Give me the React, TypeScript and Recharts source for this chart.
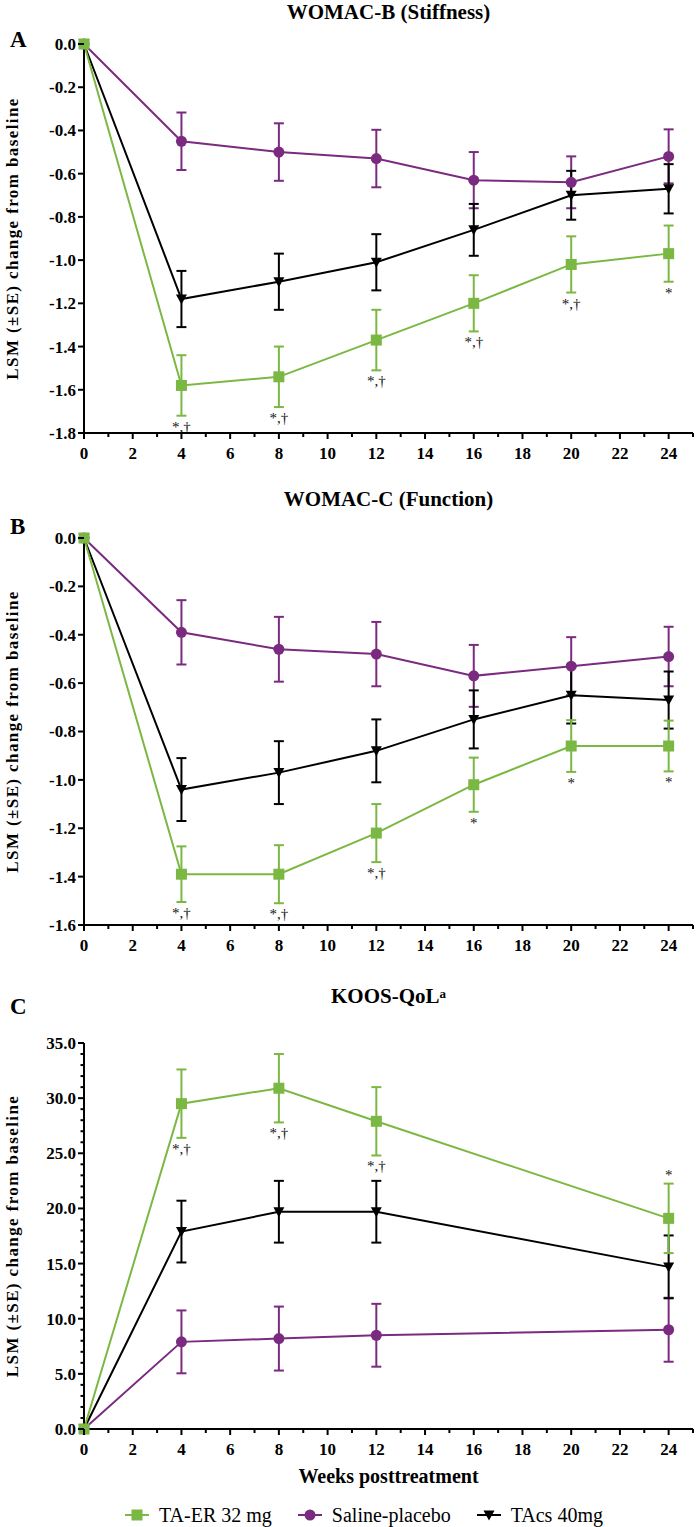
import React from "react";
import { ComposedChart, Line, XAxis, YAxis, ErrorBar, Scatter, Legend } from "recharts";

const GREEN = "#7bb843";
const PURPLE = "#7a2a7f";
const BLACK = "#000000";
const FONT = "'Liberation Serif', 'Times New Roman', Times, serif";

// weeks after treatment
const weeksAB = [0, 4, 8, 12, 16, 20, 24];
const weeksC = [0, 4, 8, 12, 24];
const xTicks = [0, 1, 2, 3, 4, 5, 6, 7, 8, 9, 10, 11, 12, 13, 14, 15, 16, 17, 18, 19, 20, 21, 22, 23, 24, 25];

// A: WOMAC-B (Stiffness)
const stiffTaEr = [0, -1.58, -1.54, -1.37, -1.2, -1.02, -0.97];
const stiffTaErSe = [0, 0.14, 0.14, 0.14, 0.13, 0.13, 0.13];
const stiffPlacebo = [0, -0.45, -0.5, -0.53, -0.63, -0.64, -0.52];
const stiffPlaceboSe = [0, 0.133, 0.133, 0.133, 0.13, 0.12, 0.125];
const stiffTacs = [0, -1.18, -1.1, -1.01, -0.86, -0.7, -0.67];
const stiffTacsSe = [0, 0.13, 0.13, 0.13, 0.12, 0.113, 0.114];
const stiffNotes = ["", "*,†", "*,†", "*,†", "*,†", "*,†", "*"];
const stiffTicks = [0, -0.2, -0.4, -0.6, -0.8, -1.0, -1.2, -1.4, -1.6, -1.8];

// B: WOMAC-C (Function)
const funcTaEr = [0, -1.39, -1.39, -1.22, -1.02, -0.86, -0.86];
const funcTaErSe = [0, 0.115, 0.12, 0.12, 0.112, 0.107, 0.105];
const funcPlacebo = [0, -0.39, -0.46, -0.48, -0.57, -0.53, -0.49];
const funcPlaceboSe = [0, 0.133, 0.134, 0.133, 0.128, 0.12, 0.123];
const funcTacs = [0, -1.04, -0.97, -0.88, -0.75, -0.65, -0.67];
const funcTacsSe = [0, 0.13, 0.13, 0.13, 0.12, 0.117, 0.118];
const funcNotes = ["", "*,†", "*,†", "*,†", "*", "*", "*"];
const funcTicks = [0, -0.2, -0.4, -0.6, -0.8, -1.0, -1.2, -1.4, -1.6];

// C: KOOS-QoL
const qolTaEr = [0, 29.5, 30.9, 27.9, 19.1];
const qolTaErSe = [0, 3.1, 3.1, 3.1, 3.15];
const qolPlacebo = [0, 7.9, 8.2, 8.5, 9.0];
const qolPlaceboSe = [0, 2.85, 2.9, 2.85, 2.9];
const qolTacs = [0, 17.9, 19.7, 19.7, 14.7];
const qolTacsSe = [0, 2.8, 2.8, 2.8, 2.85];
const qolNotes = ["", "*,†", "*,†", "*,†", "*"];
const qolNoteAbove = [false, false, false, false, true];
const qolTicks = Array.from({ length: 36 }, (_, i) => i);

const legendItems = [
  { label: "TA-ER 32 mg", color: GREEN, shape: "square" },
  { label: "Saline-placebo", color: PURPLE, shape: "circle" },
  { label: "TAcs 40mg", color: BLACK, shape: "triangle" },
];

function buildRows(weeks: number[], taEr: number[], taErSe: number[], placebo: number[], placeboSe: number[], tacs: number[], tacsSe: number[]) {
  return weeks.map((week, i) => ({
    week,
    taEr: taEr[i],
    taErSe: taErSe[i] || undefined,
    placebo: placebo[i],
    placeboSe: placeboSe[i] || undefined,
    tacs: tacs[i],
    tacsSe: tacsSe[i] || undefined,
  }));
}

function buildNotes(weeks: number[], taEr: number[], taErSe: number[], notes: string[], above?: boolean[]) {
  return weeks
    .map((week, i) => {
      const up = above ? above[i] : false;
      return { week, pos: up ? taEr[i] + taErSe[i] : taEr[i] - taErSe[i], text: notes[i], above: up };
    })
    .filter((d) => d.text);
}

function Marker({ shape, cx, cy, color }: { shape: string; cx: number; cy: number; color: string }) {
  if (shape === "square") return <rect x={cx - 5.5} y={cy - 5.5} width={11} height={11} fill={color} />;
  if (shape === "circle") return <circle cx={cx} cy={cy} r={5.5} fill={color} />;
  return <polygon points={`${cx - 5.5},${cy - 4.5} ${cx + 5.5},${cy - 4.5} ${cx},${cy + 5.5}`} fill={color} />;
}

const dotFor = (shape: string, color: string) => (p: any) =>
  p.cx == null || p.cy == null ? <g key={p.key ?? p.index} /> : <g key={p.key ?? p.index}><Marker shape={shape} cx={p.cx} cy={p.cy} color={color} /></g>;

const XTick = (props: any) => {
  const { x, y, payload } = props;
  const major = payload.value % 2 === 0 && payload.value <= 24;
  return (
    <g>
      <line x1={x} x2={x} y1={y} y2={y + (major ? 6 : 4)} stroke="#000" strokeWidth={2} />
      {major && (
        <text x={x} y={y + 26} textAnchor="middle" fontSize={17} fontWeight="bold" fontFamily={FONT} fill="#000">
          {payload.value}
        </text>
      )}
    </g>
  );
};

const makeYTick = (step: number) => (props: any) => {
  const { x, y, payload } = props;
  const major = Math.abs(payload.value / step - Math.round(payload.value / step)) < 1e-6;
  return (
    <g>
      <line x1={x - (major ? 6 : 3.5)} x2={x} y1={y} y2={y} stroke="#000" strokeWidth={2} />
      {major && (
        <text x={x - 8} y={y} dy="0.35em" textAnchor="end" fontSize={17} fontWeight="bold" fontFamily={FONT} fill="#000">
          {Number(payload.value).toFixed(1)}
        </text>
      )}
    </g>
  );
};

const YLabel = (props: any) => {
  const vb = props.viewBox || {};
  const cx = 12;
  const cy = vb.y + vb.height / 2;
  return (
    <text
      x={cx}
      y={cy}
      transform={`rotate(-90, ${cx}, ${cy})`}
      textAnchor="middle"
      dominantBaseline="central"
      fontSize={17}
      fontWeight="bold"
      letterSpacing={1.4}
      fontFamily={FONT}
      fill="#000"
    >
      LSM (±SE) change from baseline
    </text>
  );
};

const XLabel = (props: any) => {
  const vb = props.viewBox || {};
  return (
    <text x={vb.x + vb.width / 2} y={vb.y + 54} textAnchor="middle" fontSize={20} fontWeight="bold" fontFamily={FONT} fill="#000">
      Weeks posttreatment
    </text>
  );
};

const NoteShape = (props: any) => {
  const { cx, cy, payload } = props;
  if (cx == null || cy == null) return <g />;
  return (
    <g opacity={0.99}>
      <text
        x={cx}
        y={payload.above ? cy - 4 : cy + 16}
        textAnchor="middle"
        fontSize={15}
        fontFamily={FONT}
        fill="#111"
        style={{ fill: "#111" }}
      >
        {payload.text}
      </text>
    </g>
  );
};

const LegendContent = () => (
  <div style={{ display: "flex", alignItems: "center", fontFamily: FONT, fontSize: 20, color: "#000", height: 30, whiteSpace: "nowrap" }}>
    {legendItems.map((it) => (
      <div key={it.label} style={{ display: "flex", alignItems: "center", marginRight: 26 }}>
        <svg width={24} height={14}>
          <line x1={0} x2={24} y1={7} y2={7} stroke={it.color} strokeWidth={2} />
          <Marker shape={it.shape} cx={12} cy={7} color={it.color} />
        </svg>
        <span style={{ marginLeft: 10 }}>{it.label}</span>
      </div>
    ))}
  </div>
);

const axisLine = { stroke: "#000", strokeWidth: 2 };

function Panel(props: {
  top: number;
  height: number;
  marginTop: number;
  xAxisHeight: number;
  rows: any[];
  notes: any[];
  domain: [number, number];
  yTicks: number[];
  yStep: number;
  last?: boolean;
}) {
  const { top, height, marginTop, xAxisHeight, rows, notes, domain, yTicks, yStep, last } = props;
  return (
    <div style={{ position: "absolute", left: 0, top }}>
      <ComposedChart width={696} height={height} data={rows} margin={{ top: marginTop, right: 3, bottom: 0, left: 0 }}>
        <XAxis
          dataKey="week"
          type="number"
          domain={[0, 25]}
          ticks={xTicks}
          interval={0}
          height={xAxisHeight}
          tickSize={0}
          tickMargin={0}
          axisLine={axisLine}
          tickLine={false}
          tick={<XTick />}
          label={last ? (p: any) => <XLabel {...p} /> : undefined}
        />
        <YAxis
          type="number"
          domain={domain}
          ticks={yTicks}
          interval={0}
          width={84}
          tickSize={0}
          tickMargin={0}
          axisLine={axisLine}
          tickLine={false}
          tick={makeYTick(yStep)}
          label={(p: any) => <YLabel {...p} />}
        />
        <Line dataKey="placebo" stroke={PURPLE} strokeWidth={2} dot={dotFor("circle", PURPLE)} activeDot={false} isAnimationActive={false}>
          <ErrorBar dataKey="placeboSe" direction="y" width={5} stroke={PURPLE} strokeWidth={2} isAnimationActive={false} />
        </Line>
        <Line dataKey="tacs" stroke={BLACK} strokeWidth={2} dot={dotFor("triangle", BLACK)} activeDot={false} isAnimationActive={false}>
          <ErrorBar dataKey="tacsSe" direction="y" width={5} stroke={BLACK} strokeWidth={2} isAnimationActive={false} />
        </Line>
        <Line dataKey="taEr" stroke={GREEN} strokeWidth={2} dot={dotFor("square", GREEN)} activeDot={false} isAnimationActive={false}>
          <ErrorBar dataKey="taErSe" direction="y" width={5} stroke={GREEN} strokeWidth={2} isAnimationActive={false} />
        </Line>
        <Scatter data={notes} dataKey="pos" fill="#000" shape={<NoteShape />} isAnimationActive={false} />
        {last && (
          <Legend
            layout="horizontal"
            verticalAlign="middle"
            align="center"
            content={<LegendContent />}
            wrapperStyle={{ left: 125, top: height - 27, width: 560, height: 30 }}
          />
        )}
      </ComposedChart>
    </div>
  );
}

const titleStyle: React.CSSProperties = {
  position: "absolute",
  left: 84,
  width: 609,
  textAlign: "center",
  fontFamily: FONT,
  fontWeight: "bold",
  fontSize: 21,
  lineHeight: "25px",
  color: "#000",
};

const letterStyle: React.CSSProperties = {
  position: "absolute",
  left: 10,
  fontFamily: FONT,
  fontWeight: "bold",
  fontSize: 23,
  lineHeight: "26px",
  color: "#000",
};

export default function App() {
  const rowsA = buildRows(weeksAB, stiffTaEr, stiffTaErSe, stiffPlacebo, stiffPlaceboSe, stiffTacs, stiffTacsSe);
  const rowsB = buildRows(weeksAB, funcTaEr, funcTaErSe, funcPlacebo, funcPlaceboSe, funcTacs, funcTacsSe);
  const rowsC = buildRows(weeksC, qolTaEr, qolTaErSe, qolPlacebo, qolPlaceboSe, qolTacs, qolTacsSe);
  const notesA = buildNotes(weeksAB, stiffTaEr, stiffTaErSe, stiffNotes);
  const notesB = buildNotes(weeksAB, funcTaEr, funcTaErSe, funcNotes);
  const notesC = buildNotes(weeksC, qolTaEr, qolTaErSe, qolNotes, qolNoteAbove);

  return (
    <div style={{ position: "absolute", left: 0, top: 0, width: 696, height: 1527, background: "#fff", overflow: "hidden", fontFamily: FONT }}>
      <Panel top={0} height={470} marginTop={44} xAxisHeight={37} rows={rowsA} notes={notesA} domain={[-1.8, 0]} yTicks={stiffTicks} yStep={0.2} />
      <Panel top={480} height={480} marginTop={58} xAxisHeight={35} rows={rowsB} notes={notesB} domain={[-1.6, 0]} yTicks={funcTicks} yStep={0.2} />
      <Panel top={960} height={567} marginTop={83} xAxisHeight={98} rows={rowsC} notes={notesC} domain={[0, 35]} yTicks={qolTicks} yStep={5} last />

      <div style={{ ...titleStyle, top: 0 }}>WOMAC-B (Stiffness)</div>
      <div style={{ ...titleStyle, top: 487 }}>WOMAC-C (Function)</div>
      <div style={{ ...titleStyle, top: 984 }}>
        KOOS-QoL<sup style={{ fontSize: 13, verticalAlign: "top", position: "relative", top: -3 }}>a</sup>
      </div>

      <div style={{ ...letterStyle, top: 27 }}>A</div>
      <div style={{ ...letterStyle, top: 514 }}>B</div>
      <div style={{ ...letterStyle, top: 994 }}>C</div>
    </div>
  );
}
